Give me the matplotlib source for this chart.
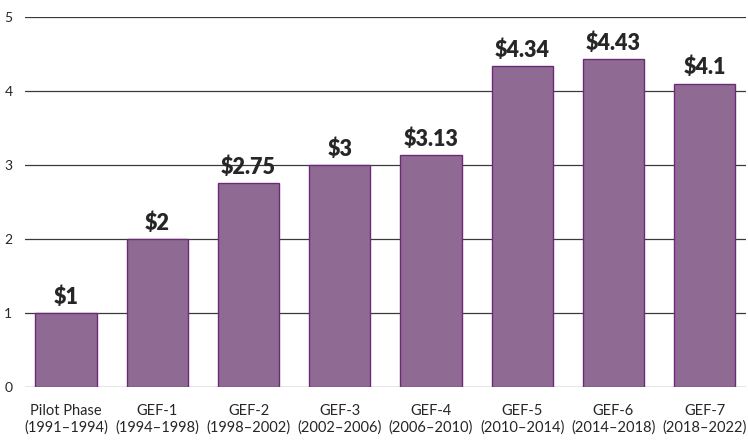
import numpy as np
import matplotlib
matplotlib.use("Agg")
import matplotlib.pyplot as plt

plt.rcParams['font.family'] = ['Lato', 'DejaVu Sans']

phases = ["Pilot Phase\n(1991\u20131994)", "GEF-1\n(1994\u20131998)", "GEF-2\n(1998\u20132002)",
          "GEF-3\n(2002\u20132006)", "GEF-4\n(2006\u20132010)", "GEF-5\n(2010\u20132014)",
          "GEF-6\n(2014\u20132018)", "GEF-7\n(2018\u20132022)"]
values = [1, 2, 2.75, 3, 3.13, 4.34, 4.43, 4.1]
value_labels = ["$1", "$2", "$2.75", "$3", "$3.13", "$4.34", "$4.43", "$4.1"]
yticks = [0, 1, 2, 3, 4, 5]

fig = plt.figure(figsize=(7.48, 4.41), dpi=100)
ax = fig.add_axes([0.0334, 0.1224, 0.9636, 0.8391])

x = np.arange(len(values))
ax.set_axisbelow(True)
ax.yaxis.grid(True, color="#3a3a3a", linewidth=0.9)
ax.bar(x, values, width=0.67, color="#8F6B94", edgecolor="#6E2A78", linewidth=1.0, zorder=3)

for xi, v, lab in zip(x, values, value_labels):
    ax.text(xi, v + 0.07, lab, ha="center", va="bottom", fontsize=15.5, fontweight="heavy", color="#262626")

ax.set_xlim(-0.45, 7.45)
ax.set_ylim(0, 5)
ax.set_yticks(yticks)
ax.set_xticks(x)
ax.set_xticklabels(phases, fontsize=10.5, color="#262626", linespacing=1.2)
ax.tick_params(axis="both", length=0, colors="#262626")
ax.tick_params(axis="y", pad=9, labelsize=10)
ax.tick_params(axis="x", pad=12)
for s in ax.spines.values():
    s.set_visible(False)

plt.savefig("out.png", dpi=100)
